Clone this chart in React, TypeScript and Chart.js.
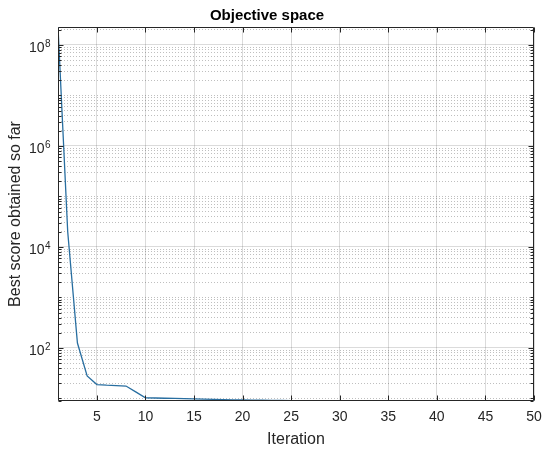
import React, { useEffect, useRef } from 'react';
import { Chart, registerables } from 'chart.js';

Chart.register(...registerables);

const iterations = [
  1, 2, 3, 4, 5, 6, 7, 8, 9, 10,
  11, 12, 13, 14, 15, 16, 17, 18, 19, 20,
  21, 22, 23, 24, 25, 26, 27, 28, 29, 30,
  31, 32, 33, 34, 35, 36, 37, 38, 39, 40,
  41, 42, 43, 44, 45, 46, 47, 48, 49, 50,
];

const bestScore = [
  2.27e8, 2.0e4, 125, 28, 18.8, 18.3, 18.0, 17.6, 13.5, 10.3,
  10.2, 10.1, 10.0, 9.9, 9.8, 9.7, 9.6, 9.5, 9.4, 9.35,
  9.3, 9.2, 9.15, 9.1, 9.05, 9.02, 9.0, 9.0, 9.0, 9.0,
  8.98, 8.98, 8.98, 8.98, 8.97, 8.97, 8.97, 8.97, 8.97, 8.97,
  8.96, 8.96, 8.96, 8.96, 8.96, 8.96, 8.96, 8.96, 8.96, 8.96,
];

const xTicks = [5, 10, 15, 20, 25, 30, 35, 40, 45, 50];
const yLabelExponents = [2, 4, 6, 8];
const yMin = 8.9;
const yMax = 2.27e8;

const FONT = "'Liberation Sans', Arial, Helvetica, sans-serif";
const AXIS_COLOR = '#262626';

function exponentOf(v: number): number | null {
  const e = Math.round(Math.log10(v));
  return Math.abs(Math.pow(10, e) - v) / v < 1e-9 ? e : null;
}

function isMajorY(v: number): boolean {
  const e = exponentOf(v);
  return e !== null && yLabelExponents.includes(e);
}

function buildLogTicks(min: number, max: number): number[] {
  const out: number[] = [];
  const e0 = Math.floor(Math.log10(min));
  const e1 = Math.ceil(Math.log10(max));
  for (let e = e0; e <= e1; e++) {
    for (let m = 1; m <= 9; m++) {
      const v = m * Math.pow(10, e);
      if (v >= min && v <= max) out.push(v);
    }
  }
  return out;
}

const boxPlugin = {
  id: 'boxTicks',
  afterDraw(chart: any) {
    const { ctx, chartArea: a, scales } = chart;
    const xs = scales.x;
    const ys = scales.y;
    const L = Math.round(a.left) + 0.5;
    const R = Math.round(a.right) - 0.5;
    const T = Math.round(a.top) + 0.5;
    const B = Math.round(a.bottom) - 0.5;
    ctx.save();
    ctx.strokeStyle = AXIS_COLOR;
    ctx.lineWidth = 1;
    ctx.beginPath();
    ctx.rect(L, T, R - L, B - T);
    ctx.stroke();
    ctx.beginPath();
    for (const t of xs.ticks) {
      const px = Math.round(xs.getPixelForValue(t.value)) + 0.5;
      ctx.moveTo(px, B);
      ctx.lineTo(px, B - 5);
      ctx.moveTo(px, T);
      ctx.lineTo(px, T + 5);
    }
    for (const t of ys.ticks) {
      const py = Math.round(ys.getPixelForValue(t.value)) + 0.5;
      const len = isMajorY(t.value) ? 5 : 3;
      ctx.moveTo(L, py);
      ctx.lineTo(L + len, py);
      ctx.moveTo(R, py);
      ctx.lineTo(R - len, py);
    }
    ctx.stroke();

    // y tick labels with real superscripts: 10^n
    ctx.fillStyle = AXIS_COLOR;
    ctx.textBaseline = 'alphabetic';
    for (const t of ys.ticks) {
      const e = exponentOf(t.value);
      if (e === null || !yLabelExponents.includes(e)) continue;
      const py = ys.getPixelForValue(t.value);
      const baseRight = L - 14;
      ctx.font = `14px ${FONT}`;
      ctx.textAlign = 'right';
      ctx.fillText('10', baseRight, py + 7);
      ctx.font = `10px ${FONT}`;
      ctx.textAlign = 'left';
      ctx.fillText(String(e), baseRight + 0.5, py + 2);
    }
    ctx.restore();
  },
};

export default function App() {
  const ref = useRef<HTMLCanvasElement | null>(null);

  useEffect(() => {
    if (!ref.current) return;
    const chart = new Chart(ref.current, {
      type: 'line',
      data: {
        datasets: [
          {
            data: iterations.map((x, i) => ({ x, y: bestScore[i] })),
            borderColor: 'rgb(40,110,160)',
            borderWidth: 1.3,
            pointRadius: 0,
            tension: 0,
            fill: false,
          },
        ],
      },
      options: {
        animation: false,
        responsive: false,
        layout: { padding: { left: 0, right: 16, top: 0, bottom: 0 } },
        plugins: {
          legend: { display: false },
          tooltip: { enabled: false },
          title: {
            display: true,
            text: 'Objective space',
            color: '#000',
            font: { family: FONT, size: 15, weight: 'bold' },
            padding: { top: 7, bottom: 2 },
          },
        },
        scales: {
          x: {
            type: 'linear',
            min: 1,
            max: 50,
            afterBuildTicks: (scale: any) => {
              scale.ticks = xTicks.map((v) => ({ value: v }));
            },
            afterFit: (scale: any) => {
              scale.height = 52;
            },
            ticks: {
              autoSkip: false,
              maxRotation: 0,
              color: AXIS_COLOR,
              padding: 8,
              font: { family: FONT, size: 14 },
              callback: (v: any) => String(v),
            },
            grid: {
              color: 'rgba(0,0,0,0.14)',
              lineWidth: 1,
              drawTicks: false,
            },
            border: { display: false },
            title: {
              display: true,
              text: 'Iteration',
              color: AXIS_COLOR,
              font: { family: FONT, size: 16 },
              padding: { top: 0, bottom: 4 },
            },
          },
          y: {
            type: 'logarithmic',
            min: yMin,
            max: yMax,
            afterBuildTicks: (scale: any) => {
              scale.ticks = buildLogTicks(yMin, yMax).map((v) => ({ value: v }));
            },
            afterFit: (scale: any) => {
              scale.width = 58;
            },
            ticks: {
              display: false,
              autoSkip: false,
            },
            grid: {
              color: (ctx: any) =>
                ctx.tick && isMajorY(ctx.tick.value) ? 'rgba(0,0,0,0.14)' : 'rgba(0,0,0,0.25)',
              lineWidth: 1,
              drawTicks: false,
            },
            border: {
              display: false,
              dash: (ctx: any) => (ctx.tick && isMajorY(ctx.tick.value) ? [] : [1, 2]),
            },
            title: {
              display: true,
              text: 'Best score obtained so far',
              color: AXIS_COLOR,
              font: { family: FONT, size: 16 },
              padding: { top: 6, bottom: 0 },
            },
          },
        },
      },
      plugins: [boxPlugin],
    } as any);
    return () => chart.destroy();
  }, []);

  return (
    <canvas
      ref={ref}
      width={550}
      height={453}
      style={{ position: 'fixed', left: 0, top: 0, width: 550, height: 453, display: 'block', background: '#fff' }}
    />
  );
}
